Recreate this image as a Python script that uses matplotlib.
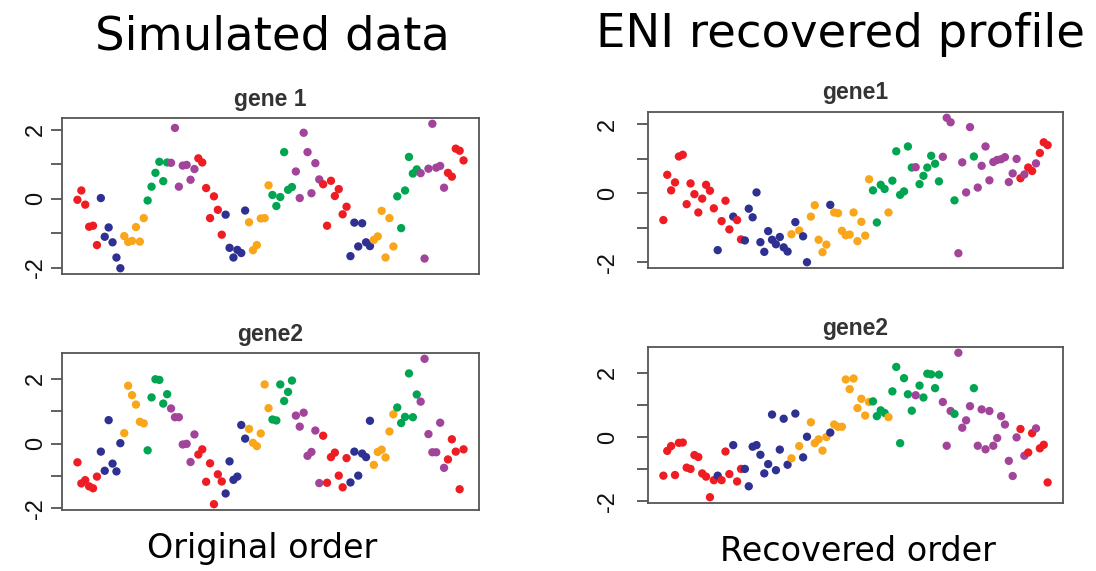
import numpy as np
import matplotlib.pyplot as plt

# Cell-cycle phase of every cell: R=G1, B=S, O=G2, G=M, P=M/G1
phase_colors = {'R': '#EE1D23', 'B': '#2E3192', 'O': '#F9A61A',
                'G': '#00A551', 'P': '#A3449B'}

phase_orig = ("RRRRRR" "BBBBBB" "OOOOOO" "GGGGGG" "PPPPPPP"
              "RRRRRRR" "BBBBBB" "OOOOOO" "GGGGGG" "PPPPPPP"
              "RRRRRRR" "BBBBBB" "OOOOOO" "GGGGGG" "PPPPPPP" "RRRRR")

phase_rec = ("RRRRRRRRRRRRRR" "B" "RRR" "B" "RR" "BBBBBBBBBBBB" "O" "B" "O"
             "BB" "OOOOO" "B" "OOOOOOOOOO" "GGGG" "O" "GGGGGG" "P" "GGGGGG"
             "PPP" "G" "PPPP" "G" "PPPPPPPPPPP" "R" "P" "RR" "P" "RRR")

# Expression in the simulated (original) cell order
gene1_orig = [-0.03, 0.24, -0.17, -0.81, -0.78, -1.34,
              0.02, -1.10, -0.83, -1.26, -1.70, -2.01,
              -1.08, -1.25, -1.22, -0.82, -1.24, -0.56,
              -0.05, 0.35, 0.75, 1.07, 0.51, 1.05,
              1.04, 2.05, 0.35, 0.96, 0.98, 0.55, 0.86,
              1.17, 1.05, 0.31, -0.56, 0.07, -0.32, -1.04,
              -0.46, -1.42, -1.70, -1.48, -1.57, -0.34,
              -0.68, -1.49, -1.34, -0.57, -0.56, 0.39,
              0.11, -0.21, 0.05, 1.35, 0.26, 0.34,
              0.79, 0.02, 1.91, 1.35, 0.16, 1.03, 0.56,
              0.42, -0.78, 0.52, 0.08, 0.28, -0.45, -0.23,
              -1.66, -0.69, -1.38, -0.71, -1.26, -1.37,
              -1.19, -1.09, -0.35, -1.70, -0.56, -1.38,
              0.07, -0.85, 0.24, 1.21, 0.73, 0.85,
              0.74, -1.73, 0.87, 2.17, 0.90, 0.95, 0.32,
              0.75, 0.64, 1.45, 1.39, 1.11]

gene2_orig = [-0.58, -1.23, -1.13, -1.32, -1.38, -1.02,
              -0.25, -0.84, 0.72, -0.62, -0.86, 0.01,
              0.32, 1.78, 1.49, 1.20, 0.67, 0.62,
              -0.21, 1.42, 1.98, 1.96, 1.23, 1.52,
              1.08, 0.81, 0.81, -0.03, -0.01, -0.57, 0.28,
              -0.34, -0.18, -1.18, -0.61, -1.87, -0.95, -1.17,
              -1.54, -0.55, -1.12, -1.02, 0.57, 0.15,
              0.45, 0.02, -0.08, 0.31, 1.82, 1.09,
              0.74, 0.71, 1.82, 1.31, 1.59, 1.94,
              0.86, 0.52, 0.95, -0.38, -0.26, 0.40, -1.22,
              0.24, -1.21, -0.42, -0.28, -0.99, -1.35, -0.45,
              -1.20, -0.25, -0.99, -0.31, -0.42, 0.70,
              -0.66, -0.26, -0.19, -0.43, 0.37, 0.90,
              1.11, 0.63, 0.82, 2.16, 0.81, 1.51,
              1.29, 2.61, 0.29, -0.27, -0.27, 0.64, -0.75,
              -0.49, 0.13, -0.25, -1.41, -0.18]

# Expression in the order recovered by ENI
gene1_rec = [-0.78, 0.53, 0.08, 0.31, 1.06, 1.11, -0.32, 0.28, -0.03, -0.56,
             -0.16, 0.24, 0.07, -0.44, -1.65, -0.81, -0.22, -1.05, -0.68, -0.78,
             -1.34, -1.37, -0.45, -0.70, 0.02, -1.42, -1.70, -1.10, -1.35, -1.48,
             -1.27, -1.57, -1.69, -1.19, -0.84, -1.08, -1.25, -2.00, -0.68, -0.35,
             -1.35, -1.71, -1.49, -0.34, -0.56, -0.58, -1.09, -1.22, -1.20, -0.56,
             -1.39, -0.83, -1.23, 0.40, 0.08, -0.85, 0.24, 0.12, -0.56, 0.36,
             1.21, -0.05, 0.05, 1.35, 0.74, 0.75, 0.26, 0.50, 0.74, 1.08,
             0.85, 0.34, 1.05, 2.18, 2.05, -0.21, -1.74, 0.89, 0.02, 1.91,
             1.06, 0.16, 0.79, 1.35, 0.37, 0.90, 0.96, 0.98, 1.04, 0.32,
             0.57, 0.99, 0.43, 0.54, 0.74, 0.64, 0.86, 1.16, 1.47, 1.39]

gene2_rec = [-1.20, -0.43, -0.28, -1.18, -0.18, -0.17, -0.95, -0.99, -0.56, -0.62,
             -1.13, -1.23, -1.87, -1.34, -1.20, -1.34, -0.45, -1.15, -0.25, -1.38,
             -0.99, -0.99, -1.53, -0.30, -0.25, -0.55, -1.13, -0.84, 0.70, -1.03,
             -0.39, 0.57, -0.86, -0.66, 0.73, -0.28, -0.63, 0.01, 0.46, -0.19,
             -0.07, -0.42, 0.00, 0.14, 0.39, 0.32, 0.32, 1.79, 1.49, 1.82,
             0.90, 1.19, 0.67, 1.09, 1.11, 0.65, 0.83, 0.75, 0.62, 1.42,
             2.18, -0.19, 1.83, 1.33, 0.82, 1.30, 1.60, 1.23, 1.97, 1.95,
             1.52, 1.94, 1.09, -0.27, 0.81, 0.72, 2.62, 0.29, 0.52, 0.96,
             1.52, -0.27, 0.86, -0.38, 0.81, -0.27, -0.03, 0.65, 0.39, -0.74,
             -1.21, -0.01, 0.25, -0.58, -0.48, 0.12, 0.27, -0.35, -0.24, -1.41]

W, H = 1096, 571
fig = plt.figure(figsize=(W / 100, H / 100), dpi=100)


def add_panel(left, top, right, bottom):
    return fig.add_axes([left / W, 1 - bottom / H, (right - left) / W, (bottom - top) / H])


panels = [
    ((62, 118, 479, 274), gene1_orig, phase_orig, 'gene 1', 3),
    ((62, 353, 479, 510), gene2_orig, phase_orig, 'gene2', 3),
    ((648, 112, 1063, 268), gene1_rec, phase_rec, 'gene1', 13),
    ((648, 347, 1063, 503), gene2_rec, phase_rec, 'gene2', 13),
]

for box, values, phases, name, lab_pad in panels:
    ax = add_panel(*box)
    y = np.array(values)
    x = np.arange(1, len(y) + 1)
    ax.scatter(x, y, c=[phase_colors[p] for p in phases], s=36, linewidths=0, zorder=3)

    # R-style axis ranges: 4% padding around the data
    n = len(y)
    ax.set_xlim(1 - 0.04 * (n - 1), n + 0.04 * (n - 1))
    rng = y.max() - y.min()
    ax.set_ylim(y.min() - 0.04 * rng, y.max() + 0.04 * rng)

    ax.set_xticks([])
    ax.set_yticks([-2, -1, 0, 1, 2])
    ax.set_yticklabels(['-2', '', '0', '', '2'])
    ax.tick_params(axis='y', direction='out', length=8, width=1.2, color='#444444',
                   labelsize=17, pad=lab_pad, labelcolor='#111111')
    plt.setp(ax.get_yticklabels(), rotation=90, va='center', family='Liberation Sans')
    for s in ax.spines.values():
        s.set_color('#555555')
        s.set_linewidth(1.3)
    ax.set_title(name, fontsize=16.5, fontweight='bold', color='#333333',
                 family='Liberation Sans', pad=9)

fig.text(272 / W, 1 - 50 / H, 'Simulated data', fontsize=33.5, ha='center', va='baseline')
fig.text(841 / W, 1 - 47 / H, 'ENI recovered profile', fontsize=33.5, ha='center', va='baseline')
fig.text(262 / W, 1 - 558 / H, 'Original order', fontsize=24, ha='center', va='baseline')
fig.text(858 / W, 1 - 561 / H, 'Recovered order', fontsize=24, ha='center', va='baseline')

fig.savefig('out.png', dpi=100, facecolor='white')
